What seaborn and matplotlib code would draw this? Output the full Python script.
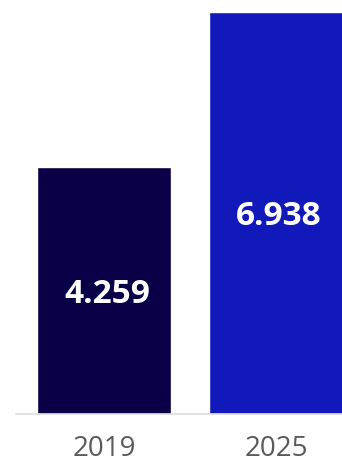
import numpy as np
import pandas as pd
import matplotlib
matplotlib.use('agg')
import matplotlib.pyplot as plt
import matplotlib.transforms as mtransforms
import seaborn as sns

years = ['2019', '2025']
values = [4.259, 6.938]
bar_colors = ['#0a0048', '#1219bb']

sns.set_style('white')
plt.rcParams['font.family'] = ['Open Sans', 'DejaVu Sans']

df = pd.DataFrame({'year': years, 'value': values})

fig = plt.figure(figsize=(3.42, 4.62), dpi=100)
ax = fig.add_axes([16 / 342, 48 / 462, 326 / 342, 414 / 462])
sns.barplot(data=df, x='year', y='value', hue='year', palette=bar_colors,
            width=0.78, saturation=1, legend=False, ax=ax)

# value labels in the middle of each bar, nudged down a few pixels
shift = mtransforms.offset_copy(ax.transData, fig=fig, x=3, y=-4, units='dots')
for i, v in enumerate(values):
    ax.text(i, v / 2, '{:.3f}'.format(v), ha='center', va='center',
            color='white', fontsize=24, fontweight='bold', transform=shift)

ax.set_xlim(-0.512, 1.384)
ax.set_ylim(0, 7.14)
ax.set_xlabel('')
ax.set_ylabel('')
ax.set_yticks([])
sns.despine(ax=ax, left=True)
ax.spines['bottom'].set_color('#dddddd')
ax.spines['bottom'].set_linewidth(1.2)
ax.tick_params(axis='x', length=0, pad=15, labelsize=20, labelcolor='#5a5a5a')

fig.savefig('out.png', dpi=100)
